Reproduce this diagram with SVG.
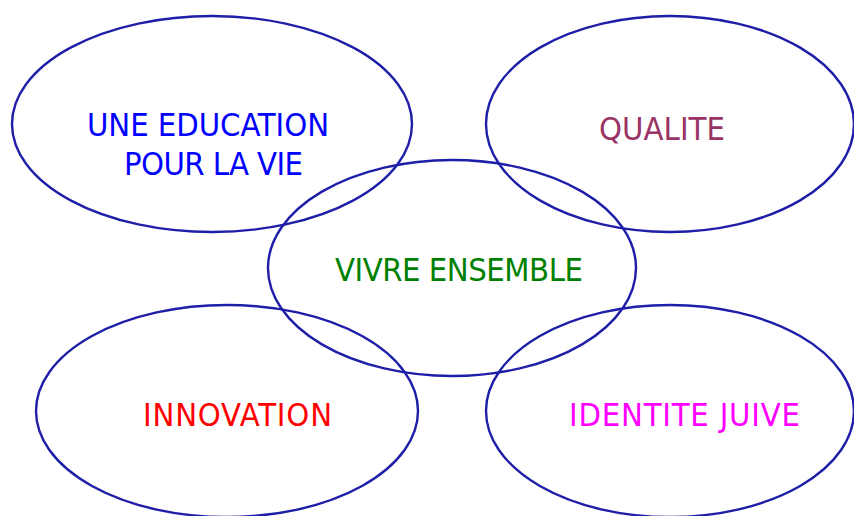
<svg xmlns="http://www.w3.org/2000/svg" width="854" height="516" viewBox="0 0 854 516">
<style>
.node ellipse{fill:none;stroke:#1e1ea8;stroke-width:2.4}
.lbl{font-family:"DejaVu Sans Condensed","DejaVu Sans","Liberation Sans",sans-serif;font-stretch:condensed;font-size:32.5px}
</style>
<rect width="854" height="516" fill="#ffffff"/>
<g id="connectors"></g>
<g id="node-education" class="node">
<ellipse cx="212" cy="124" rx="200" ry="108"/>
<text class="lbl" x="87" y="136" fill="#0000ff" textLength="242" lengthAdjust="spacing">UNE EDUCATION</text>
<text class="lbl" x="124" y="175" fill="#0000ff" textLength="179" lengthAdjust="spacing">POUR LA VIE</text>
</g>
<g id="node-qualite" class="node">
<ellipse cx="670" cy="124" rx="184" ry="108"/>
<text class="lbl" x="599" y="140" fill="#993366" textLength="126" lengthAdjust="spacing">QUALITE</text>
</g>
<g id="node-vivre" class="node">
<ellipse cx="452" cy="268" rx="184" ry="108"/>
<text class="lbl" x="335" y="281" fill="#008000" textLength="248" lengthAdjust="spacing">VIVRE ENSEMBLE</text>
</g>
<g id="node-innovation" class="node">
<ellipse cx="227" cy="411" rx="191" ry="106"/>
<text class="lbl" x="143" y="426" fill="#ff0000" textLength="189" lengthAdjust="spacing">INNOVATION</text>
</g>
<g id="node-identite" class="node">
<ellipse cx="670" cy="411" rx="184" ry="106"/>
<text class="lbl" x="569" y="426" fill="#ff00ff" textLength="231" lengthAdjust="spacing">IDENTITE JUIVE</text>
</g>
</svg>
